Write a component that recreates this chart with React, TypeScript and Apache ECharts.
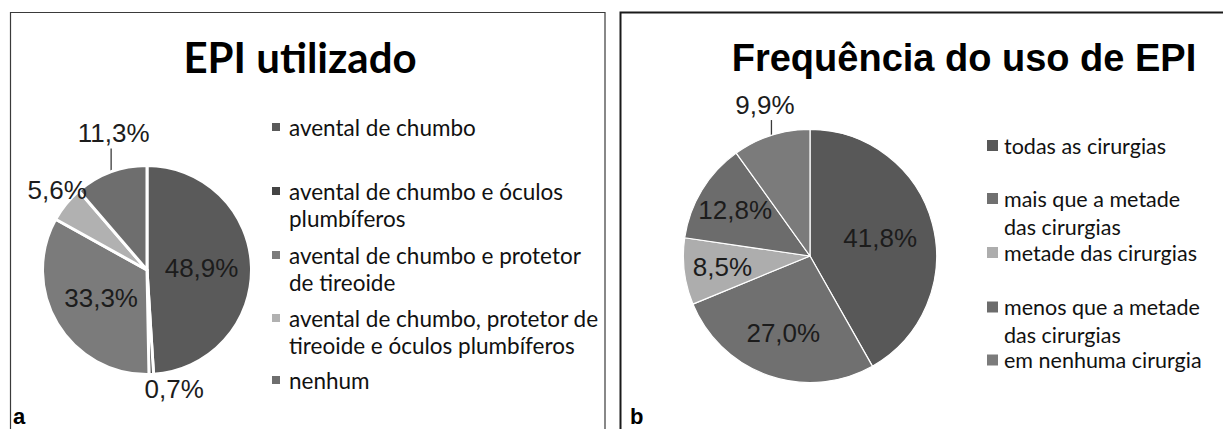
import React, { useEffect, useRef } from 'react';
import * as echarts from 'echarts';

// ---------- data ----------
const titleA = 'EPI utilizado';
const titleB = 'Frequência do uso de EPI';

const categoriesA = [
  'avental de chumbo',
  'avental de chumbo e óculos plumbíferos',
  'avental de chumbo e protetor de tireoide',
  'avental de chumbo, protetor de tireoide e óculos plumbíferos',
  'nenhum',
];
const valuesA = [48.9, 0.7, 33.3, 5.6, 11.3];
const legendLinesA = [
  ['avental de chumbo'],
  ['avental de chumbo e óculos', 'plumbíferos'],
  ['avental de chumbo e protetor', 'de tireoide'],
  ['avental de chumbo, protetor de', 'tireoide e óculos plumbíferos'],
  ['nenhum'],
];

const categoriesB = [
  'todas as cirurgias',
  'mais que a metade das cirurgias',
  'metade das cirurgias',
  'menos que a metade das cirurgias',
  'em nenhuma cirurgia',
];
const valuesB = [41.8, 27.0, 8.5, 12.8, 9.9];
const legendLinesB = [
  ['todas as cirurgias'],
  ['mais que a metade', 'das cirurgias'],
  ['metade das cirurgias'],
  ['menos que a metade', 'das cirurgias'],
  ['em nenhuma cirurgia'],
];

const panelLabels = ['a', 'b'];

// ---------- styles / layout ----------
const colorsA = ['#5a5a5a', '#444444', '#7b7b7b', '#b1b1b1', '#6e6e6e'];
const colorsB = ['#585858', '#707070', '#adadad', '#6c6c6c', '#7b7b7b'];

const PIE_A = { cx: 147, cy: 270, r: 103, stroke: 3 };
const PIE_B = { cx: 810, cy: 256, r: 126, stroke: 1.2 };

type Place = { k?: number; dx?: number; dy?: number; line?: number };
const labelPlaceA: Place[] = [
  { k: 0.53 },
  { dx: 23, dy: 16 },
  { k: 0.52 },
  { dx: -10, dy: -15 },
  { dx: 2.5, dy: -40, line: 25 },
];
const labelPlaceB: Place[] = [
  { k: 0.576 },
  { k: 0.648 },
  { k: 0.7 },
  { k: 0.695 },
  { dx: -6.5, dy: -31, line: 16 },
];

const legendA = { left: 272, centers: [127, 191, 255, 318, 380], lineHeight: 27, icon: 8, fontSize: 22.5, pad: 4 };
const legendB = { left: 987, centers: [145.5, 198.5, 252.5, 307, 360], lineHeight: 28, icon: 11, fontSize: 21.5, pad: 1 };

const LABEL_FONT = 'Liberation Sans';
const LEGEND_FONT = 'Lato';

const fmt = (v: number) => v.toFixed(1).replace('.', ',') + '%';

function midAngle(values: number[], i: number) {
  const total = values.reduce((s, v) => s + v, 0);
  let cum = 0;
  for (let j = 0; j < i; j++) cum += values[j];
  return ((cum + values[i] / 2) / total) * Math.PI * 2;
}

function labelLayoutFor(values: number[], geom: any, place: Place[]) {
  return (p: any) => {
    const i = p.dataIndex;
    const a = midAngle(values, i);
    const ux = Math.sin(a);
    const uy = -Math.cos(a);
    const pl = place[i];
    if (pl.k != null) {
      return {
        x: geom.cx + pl.k * geom.r * ux,
        y: geom.cy + pl.k * geom.r * uy,
        align: 'center',
        verticalAlign: 'middle',
      };
    }
    const ex = geom.cx + geom.r * ux;
    const ey = geom.cy + geom.r * uy;
    const res: any = {
      x: ex + (pl.dx || 0),
      y: ey + (pl.dy || 0),
      align: 'center',
      verticalAlign: 'middle',
    };
    if (pl.line) {
      res.labelLinePoints = [
        [ex, ey],
        [ex, ey - pl.line],
        [ex, ey - pl.line],
      ];
    }
    return res;
  };
}

function pieSeries(categories: string[], values: number[], colors: string[], geom: any, place: Place[]) {
  return {
    type: 'pie',
    center: [geom.cx, geom.cy],
    radius: geom.r + geom.stroke / 2,
    startAngle: 90,
    clockwise: true,
    avoidLabelOverlap: false,
    emphasis: { disabled: true },
    itemStyle: { borderColor: '#ffffff', borderWidth: geom.stroke },
    label: {
      show: true,
      position: 'inside',
      formatter: (p: any) => fmt(p.value),
      fontFamily: LABEL_FONT,
      fontSize: 26,
      color: '#1c1c1c',
    },
    labelLine: { show: false, lineStyle: { color: '#3a3a3a', width: 1.3 } },
    labelLayout: labelLayoutFor(values, geom, place),
    data: categories.map((name, i) => ({
      name,
      value: values[i],
      itemStyle: { color: colors[i] },
      label: { position: place[i].k != null ? 'inside' : 'outside' },
      labelLine: { show: !!place[i].line, length: 10, length2: 0 },
    })),
  };
}

function legendsFor(categories: string[], lines: string[][], cfg: any) {
  return categories.map((name, i) => {
    const ls = lines[i];
    const text = ls.length > 1 ? '\n' + ls.join('\n') : ls[0];
    const n = ls.length > 1 ? 3 : 1;
    return {
      orient: 'vertical',
      left: cfg.left,
      top: cfg.centers[i] - (n * cfg.lineHeight) / 2,
      padding: 0,
      icon: 'rect',
      itemWidth: cfg.icon,
      itemHeight: cfg.icon,
      selectedMode: false,
      itemStyle: { borderWidth: 0 },
      data: [name],
      formatter: () => text,
      textStyle: {
        fontFamily: LEGEND_FONT,
        fontSize: cfg.fontSize,
        color: '#111111',
        lineHeight: cfg.lineHeight,
        padding: [0, 0, 0, cfg.pad],
      },
    };
  });
}

export default function App() {
  const ref = useRef<HTMLDivElement>(null);

  useEffect(() => {
    if (!ref.current) return;
    const chart = echarts.init(ref.current, null, { renderer: 'svg' });
    const panelText = (t: string, x: number) => ({
      type: 'text',
      silent: true,
      x,
      y: 416,
      style: {
        text: t,
        font: 'bold 22px "Liberation Sans"',
        fill: '#000000',
        align: 'left',
        verticalAlign: 'middle',
        textAlign: 'left',
        textVerticalAlign: 'middle',
      },
    });
    const option: any = {
      animation: false,
      backgroundColor: '#ffffff',
      title: [
        {
          text: titleA,
          left: 300,
          top: 57,
          padding: 0,
          textAlign: 'center',
          textVerticalAlign: 'middle',
          textStyle: { fontFamily: 'Lato', fontWeight: 'bold', fontSize: 42, color: '#000000' },
        },
        {
          text: titleB,
          left: 964,
          top: 58,
          padding: 0,
          textAlign: 'center',
          textVerticalAlign: 'middle',
          textStyle: { fontFamily: 'Liberation Sans', fontWeight: 'bold', fontSize: 38, color: '#000000' },
        },
      ],
      legend: [
        ...legendsFor(categoriesA, legendLinesA, legendA),
        ...legendsFor(categoriesB, legendLinesB, legendB),
      ],
      graphic: [
        {
          type: 'rect',
          silent: true,
          shape: { x: 10.5, y: 12.5, width: 594.5, height: 440 },
          style: { fill: 'none', stroke: '#3a3a3a', lineWidth: 1.2 },
        },
        {
          type: 'rect',
          silent: true,
          shape: { x: 620.5, y: 12.5, width: 620, height: 440 },
          style: { fill: 'none', stroke: '#1a1a1a', lineWidth: 2 },
        },
        panelText(panelLabels[0], 13),
        panelText(panelLabels[1], 630),
      ],
      series: [
        pieSeries(categoriesA, valuesA, colorsA, PIE_A, labelPlaceA),
        pieSeries(categoriesB, valuesB, colorsB, PIE_B, labelPlaceB),
      ],
    };
    chart.setOption(option);
    return () => chart.dispose();
  }, []);

  return (
    <div
      ref={ref}
      style={{ position: 'absolute', left: 0, top: 0, width: 1223, height: 429, background: '#fff' }}
    />
  );
}
